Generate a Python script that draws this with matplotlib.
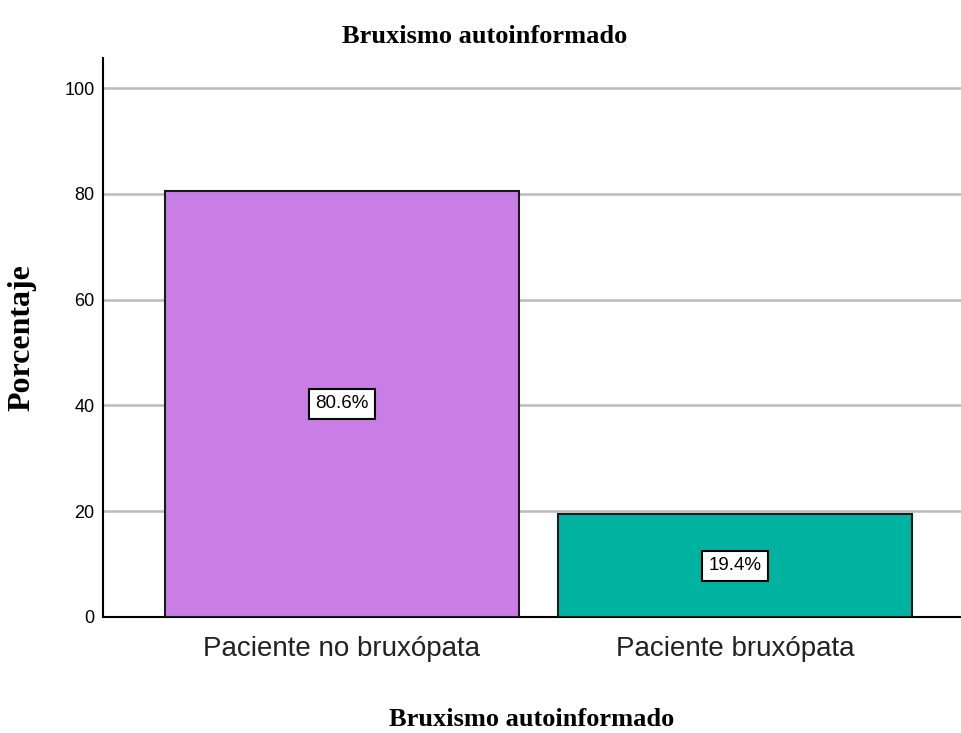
import matplotlib
matplotlib.use("Agg")
import matplotlib.pyplot as plt
from matplotlib import font_manager

# data
categories = ["Paciente no bruxópata", "Paciente bruxópata"]
percentages = [80.6, 19.4]
bar_colors = ["#C97EE6", "#00B3A0"]
yticks = [0, 20, 40, 60, 80, 100]

names = {f.name for f in font_manager.fontManager.ttflist}
sans = "Liberation Sans Narrow" if "Liberation Sans Narrow" in names else "Liberation Sans"
serif = "Liberation Serif"

fig = plt.figure(figsize=(9.61, 7.33), dpi=100)
ax = fig.add_axes([0.1072, 0.1583, 0.8928, 0.7626])

x = list(range(len(categories)))
bars = ax.bar(x, percentages, width=0.9, color=bar_colors,
              edgecolor="#1a1a1a", linewidth=1.5, zorder=3)

for b, v in zip(bars, percentages):
    ax.text(b.get_x() + b.get_width() / 2, v / 2, "%.1f%%" % v,
            ha="center", va="center", fontsize=13.5, family=sans, zorder=4,
            bbox=dict(boxstyle="square,pad=0.35", facecolor="white",
                      edgecolor="black", linewidth=1.5))

ax.set_xlim(-0.608, 1.575)
ax.set_ylim(0, 105.7)
ax.set_yticks(yticks)
ax.set_yticklabels([str(t) for t in yticks], family=sans, fontsize=13)
ax.set_xticks(x)
ax.set_xticklabels(categories, family=sans, fontsize=20, color="#222222")
ax.tick_params(axis="both", length=0)
ax.tick_params(axis="x", pad=14)
ax.tick_params(axis="y", pad=6)

ax.grid(axis="y", color="#bbbbbb", linewidth=1.8, zorder=0)
ax.set_axisbelow(True)
for s in ["top", "right"]:
    ax.spines[s].set_visible(False)
ax.spines["left"].set_linewidth(1.5)
ax.spines["bottom"].set_linewidth(1.5)

# title sits over the figure centre, not the axes centre
ax.set_title("Bruxismo autoinformado", family=serif, fontweight="bold",
             fontsize=19, pad=11, x=0.445)
ax.set_ylabel("Porcentaje", family=serif, fontweight="bold", fontsize=23,
              labelpad=20)
ax.set_xlabel("Bruxismo autoinformado", family=serif, fontweight="bold",
              fontsize=19, labelpad=33)

fig.savefig("out.png", dpi=100)
